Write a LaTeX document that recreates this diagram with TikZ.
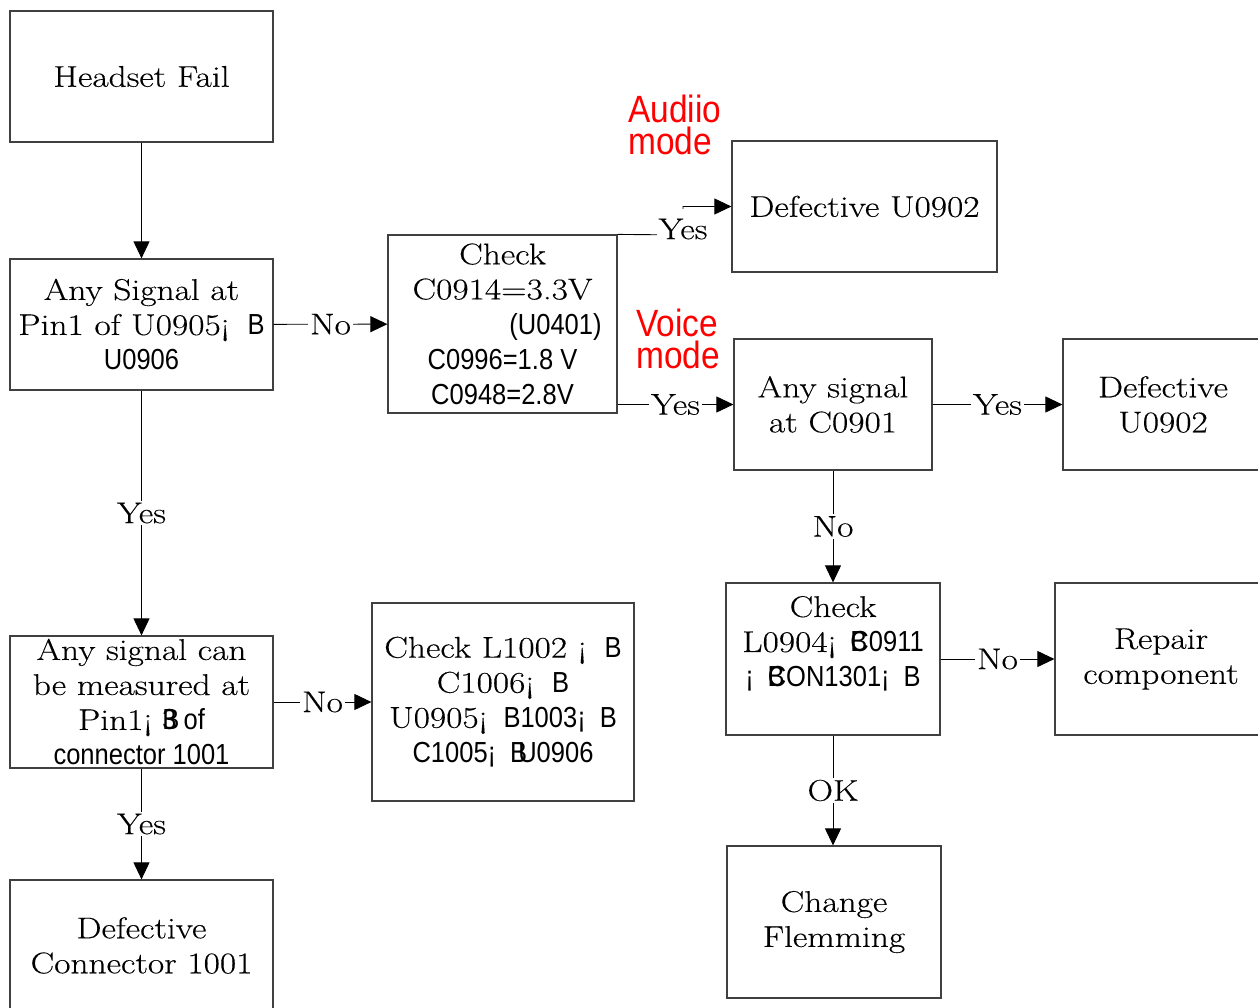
\documentclass[tikz,border=0pt]{standalone}
\usepackage{fontspec}
\setmainfont{Latin Modern Roman}[FakeStretch=1.18, FakeBold=0.3]
\setsansfont{Liberation Sans}[FakeStretch=0.88]
\usetikzlibrary{arrows.meta, positioning}
\newcommand{\serifsize}{\fontsize{30}{35}\selectfont}
\newcommand{\sx}[1]{{\sffamily\fontsize{29}{35}\selectfont #1}}
\tikzset{
    box/.style={draw=black!75, line width=1.2pt, rectangle, align=center, inner sep=0pt, font=\serifsize},
    arr/.style={-{Triangle[length=17pt, width=16pt]}, line width=0.9pt, black},
    lbl/.style={fill=white, inner sep=2pt, font=\serifsize, text=black},
    mode/.style={align=left, inner sep=0pt, text=red, font=\sffamily\fontsize{38}{32}\selectfont}
}

\begin{document}
\begin{tikzpicture}[x=1pt, y=-1pt]
\useasboundingbox (0,0) rectangle (1258,1008);

% Nodes
\node[box, minimum width=263pt, minimum height=131pt] (fail) at (141.5,76.5) {Headset Fail};
\node[box, minimum width=263pt, minimum height=131pt] (sig) at (141.5,324.5)
  {Any Signal at\\Pin1 of U0905¡\hspace{18pt}\sx{B}\\\sx{U0906}};
\node[box, minimum width=263pt, minimum height=132pt] (meas) at (141.5,702)
  {Any signal can\\be measured at\\Pin1¡\hspace{10pt}\sx{\rlap{B}3 of}\\\sx{connector 1001}};
\node[box, minimum width=263pt, minimum height=131pt] (conn) at (141.5,945.5)
  {Defective\\Connector 1001};

\node[box, minimum width=229pt, minimum height=178pt] (chk) at (502.5,324)
  {Check\\C0914=3.3V\\\hspace*{106pt}\sx{(U0401)}\\\sx{C0996=1.8 V}\\\sx{C0948=2.8V}};
\node[box, minimum width=262pt, minimum height=198pt] (l1002) at (503,702)
  {Check L1002 ¡\hspace{18pt}\sx{B}\\C1006¡\hspace{18pt}\sx{B}\\U0905¡\hspace{16pt}\sx{B1003¡\hspace{14pt}B}\\\sx{C1005¡\hspace{14pt}\rlap{B}\hspace{8pt}U0906}};

\node[box, minimum width=265pt, minimum height=131pt] (def1) at (864.5,206.5) {Defective U0902};
\node[box, minimum width=198pt, minimum height=131pt] (c0901) at (833,404.5) {Any signal\\at C0901};
\node[box, minimum width=200pt, minimum height=131pt] (def2) at (1163,404.5) {Defective\\U0902};
\node[box, minimum width=214pt, minimum height=152pt] (l0904) at (833,659)
  {Check\\L0904¡\hspace{14pt}\sx{\rlap{B}C0911}\\\sx{¡\hspace{14pt}\rlap{B}CON1301¡\hspace{14pt}B}\\\mbox{}};
\node[box, minimum width=212pt, minimum height=152pt] (repair) at (1161,659) {Repair\\component};
\node[box, minimum width=214pt, minimum height=152pt] (flem) at (834,922) {Change\\Flemming};

% Mode notes
\node[mode, anchor=west] (audio) at (628,125) {Audiio\\mode};
\node[mode, anchor=west] (voice) at (636,339) {Voice\\mode};

% Lines down the left column
\draw[arr] (fail) -- (sig);
\draw[arr] (sig) -- node[lbl] (y1) {Yes} (meas);
\draw[arr] (meas) -- node[lbl] (y2) {Yes} (conn);

% Lines to the right
\draw[arr] (sig) -- node[lbl] (n1) {No} (chk);
\draw[arr] (meas) -- node[lbl] (n2) {No} (l1002);
\coordinate (bend) at (683,235);
\draw[arr] (chk.north east) -- (bend) |- (def1.west);
\node[lbl, minimum height=40pt] (y3) at (683,229) {Yes};
\draw[arr] (chk.east |- c0901) -- node[lbl] (y4) {Yes} (c0901);
\draw[arr] (c0901) -- node[lbl] (y5) {Yes} (def2);
\draw[arr] (c0901) -- node[lbl] (n3) {No} (l0904);
\draw[arr] (l0904) -- node[lbl] (n4) {No} (repair);
\draw[arr] (l0904.south) -- node[lbl] (ok) {OK} (l0904.south |- flem.north);
\end{tikzpicture}
\end{document}
